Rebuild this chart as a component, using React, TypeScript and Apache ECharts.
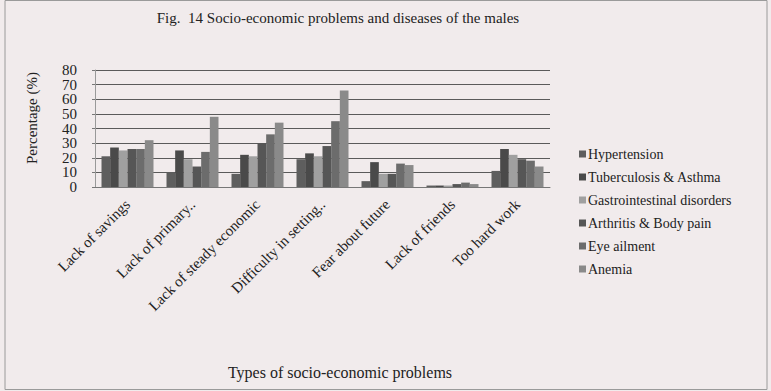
import React, { useEffect, useRef } from "react";
import * as echarts from "echarts";

const categories = [
  "Lack of savings",
  "Lack of primary..",
  "Lack of steady economic",
  "Difficulty in setting..",
  "Fear about future",
  "Lack of friends",
  "Too hard work",
];

const seriesNames = [
  "Hypertension",
  "Tuberculosis & Asthma",
  "Gastrointestinal disorders",
  "Arthritis & Body pain",
  "Eye ailment",
  "Anemia",
];

const hypertension = [21, 10, 9, 19, 4, 1, 11];
const tuberculosis = [27, 25, 22, 23, 17, 1, 26];
const gastro = [25, 19, 21, 21, 9, 1, 22];
const arthritis = [26, 14, 30, 28, 9, 2, 19];
const eyeAilment = [26, 24, 36, 45, 16, 3, 18];
const anemia = [32, 48, 44, 66, 15, 2, 14];

const yTicksEven = [0, 20, 40, 60, 80];
const yTicksOdd = [10, 30, 50, 70];

const colors = ["#5e5e5e", "#4a4a4a", "#a0a0a0", "#565656", "#6c6c6c", "#8a8a8a"];

const SERIF = "Liberation Serif";

export default function App() {
  const ref = useRef<HTMLDivElement>(null);
  useEffect(() => {
    document.body.style.margin = "0";
    if (!ref.current) return;
    const chart = echarts.init(ref.current, null, { renderer: "svg" });
    const data = [hypertension, tuberculosis, gastro, arthritis, eyeAilment, anemia];
    const labelStyle = {
      margin: 18,
      fontFamily: SERIF,
      fontSize: 15,
      color: "#222",
    };
    chart.setOption({
      animation: false,
      backgroundColor: "#f1ebec",
      textStyle: { fontFamily: SERIF },
      title: {
        text: "Fig.  14 Socio-economic problems and diseases of the males",
        left: 333,
        textAlign: "center",
        top: 5,
        textStyle: { fontFamily: SERIF, fontSize: 15, fontWeight: "normal", color: "#222" },
      },
      legend: {
        orient: "vertical",
        left: 574,
        top: 142,
        itemWidth: 7,
        itemHeight: 7,
        itemGap: 9,
        icon: "rect",
        data: seriesNames,
        textStyle: { fontFamily: SERIF, fontSize: 14, color: "#222", padding: [0, 0, 0, -3] },
      },
      grid: { left: 95, right: 221, top: 70, bottom: 204 },
      xAxis: {
        type: "category",
        data: categories,
        axisLine: { show: true, lineStyle: { color: "#777", width: 1 } },
        axisTick: { show: false },
        axisLabel: {
          interval: 0,
          rotate: 45,
          margin: 15,
          fontFamily: SERIF,
          fontSize: 15,
          color: "#222",
        },
      },
      yAxis: [
        {
          type: "value",
          min: 0,
          max: 80,
          interval: 10,
          position: "left",
          axisLine: { show: true, lineStyle: { color: "#999", width: 1 } },
          axisTick: { show: true, length: 3, lineStyle: { color: "#777" } },
          axisLabel: { ...labelStyle, customValues: yTicksEven },
          splitLine: { show: true, lineStyle: { color: "#5a5a5a", width: 1 } },
        },
        {
          type: "value",
          min: 0,
          max: 80,
          interval: 10,
          position: "left",
          offset: 0,
          axisLine: { show: false },
          axisTick: { show: false },
          axisLabel: { ...labelStyle, customValues: yTicksOdd },
          splitLine: { show: false },
        },
      ],
      series: seriesNames.map((name, i) => ({
        name,
        type: "bar",
        yAxisIndex: 0,
        data: data[i],
        barGap: "0%",
        barCategoryGap: "20%",
        itemStyle: { color: colors[i] },
      })),
      graphic: [
        {
          type: "rect",
          shape: { x: 5, y: 0.5, width: 762, height: 389 },
          style: { fill: "none", stroke: "#9a9a9a", lineWidth: 1 },
        },
        {
          type: "text",
          x: 32,
          y: 118,
          rotation: Math.PI / 2,
          style: {
            text: "Percentage (%)",
            fontFamily: SERIF,
            fontSize: 15,
            fill: "#222",
            align: "center",
            verticalAlign: "middle",
          },
        },
        {
          type: "text",
          x: 340,
          y: 372,
          style: {
            text: "Types of socio-economic problems",
            fontFamily: SERIF,
            fontSize: 16,
            fill: "#222",
            align: "center",
            verticalAlign: "middle",
          },
        },
      ],
    });
    return () => chart.dispose();
  }, []);
  return <div ref={ref} style={{ width: 771, height: 391 }} />;
}
